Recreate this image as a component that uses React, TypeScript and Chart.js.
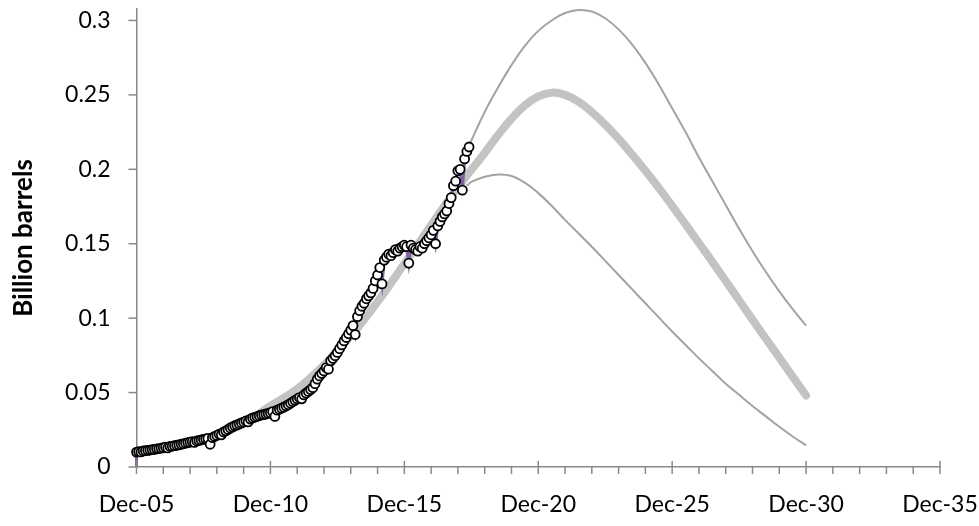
import React, { useEffect, useRef } from 'react';
import { Chart, registerables } from 'chart.js';

Chart.register(...registerables);

// x values are months since Dec-05
const xTickValues = [0, 60, 120, 180, 240, 300, 360];
const xTickLabels = ['Dec-05', 'Dec-10', 'Dec-15', 'Dec-20', 'Dec-25', 'Dec-30', 'Dec-35'];
const yTickValues = [0, 0.05, 0.1, 0.15, 0.2, 0.25, 0.3];
const yTickLabels = ['0', '0.05', '0.1', '0.15', '0.2', '0.25', '0.3'];

// monthly observed production (billion barrels), Dec-05 onward
const observed = [
  0.0100, 0.0103, 0.0101, 0.0108, 0.0110, 0.0112, 0.0114, 0.0117, 0.0119, 0.0122, 0.0124, 0.0127,
  0.0130, 0.0133, 0.0128, 0.0138, 0.0140, 0.0143, 0.0146, 0.0149, 0.0153, 0.0156, 0.0160, 0.0164,
  0.0167, 0.0170, 0.0165, 0.0175, 0.0178, 0.0182, 0.0186, 0.0189, 0.0192, 0.0153, 0.0197, 0.0205,
  0.0212, 0.0220, 0.0216, 0.0235, 0.0243, 0.0252, 0.0262, 0.0270, 0.0277, 0.0283, 0.0290, 0.0296,
  0.0302, 0.0309, 0.0303, 0.0322, 0.0330, 0.0334, 0.0339, 0.0345, 0.0350, 0.0352, 0.0356, 0.0360,
  0.0365, 0.0372, 0.0340, 0.0382, 0.0388, 0.0395, 0.0402, 0.0410, 0.0418, 0.0428, 0.0438, 0.0448,
  0.0457, 0.0466, 0.0458, 0.0484, 0.0496, 0.0508, 0.0520, 0.0533, 0.0560, 0.0590, 0.0612, 0.0628,
  0.0645, 0.0668, 0.0657, 0.0713, 0.0730, 0.0748, 0.0770, 0.0795, 0.0820, 0.0847, 0.0870, 0.0895,
  0.0920, 0.0950, 0.0890, 0.1010, 0.1050, 0.1080, 0.1100, 0.1130, 0.1150, 0.1170, 0.1200, 0.1250,
  0.1290, 0.1340, 0.1230, 0.1390, 0.1410, 0.1430, 0.1420, 0.1440, 0.1460, 0.1450, 0.1470, 0.1480,
  0.1490, 0.1480, 0.1370, 0.1490, 0.1470, 0.1460, 0.1450, 0.1480, 0.1470, 0.1500, 0.1520, 0.1540,
  0.1560, 0.1590, 0.1500, 0.1620, 0.1650, 0.1680, 0.1700, 0.1720, 0.1770, 0.1810, 0.1890, 0.1920,
  0.1990, 0.2000, 0.1860, 0.2070, 0.2120, 0.2150,
];

// fitted curve (thick grey)
const fitMonths = [
  0, 12, 24, 36, 48, 60, 72, 84, 96, 108, 120, 132, 144, 156, 162, 168, 174, 180, 186, 192, 198,
  204, 210, 216, 222, 228, 234, 240, 246, 252, 258, 264, 270, 276, 282, 288, 294, 300,
];
const fitValues = [
  0.0090, 0.0118, 0.0158, 0.0212, 0.0290, 0.0410, 0.0525, 0.0685, 0.0880, 0.1110, 0.1365, 0.1625,
  0.1880, 0.2110, 0.2230, 0.2340, 0.2430, 0.2490, 0.2515, 0.2500, 0.2455, 0.2385, 0.2300, 0.2205,
  0.2100, 0.1990, 0.1875, 0.1755, 0.1630, 0.1505, 0.1378, 0.1250, 0.1120, 0.0990, 0.0862, 0.0735,
  0.0607, 0.0480,
];

// high case (thin grey)
const highMonths = [
  149, 156, 162, 168, 174, 180, 186, 192, 198, 204, 210, 216, 222, 228, 234, 240, 246, 252, 258,
  264, 270, 276, 282, 288, 294, 300,
];
const highValues = [
  0.2160, 0.2385, 0.2550, 0.2700, 0.2830, 0.2930, 0.3000, 0.3050, 0.3070, 0.3060, 0.3015, 0.2940,
  0.2840, 0.2715, 0.2570, 0.2410, 0.2250, 0.2080, 0.1920, 0.1760, 0.1600, 0.1450, 0.1310, 0.1180,
  0.1060, 0.0950,
];

// low case (thin grey)
const lowMonths = [
  148, 150, 156, 162, 168, 174, 180, 186, 192, 198, 204, 210, 216, 222, 228, 234, 240, 246, 252,
  258, 264, 270, 276, 282, 288, 294, 300,
];
const lowValues = [
  0.1890, 0.1915, 0.1950, 0.1965, 0.1955, 0.1910, 0.1840, 0.1755, 0.1660, 0.1570, 0.1480, 0.1385,
  0.1290, 0.1195, 0.1100, 0.1005, 0.0910, 0.0820, 0.0730, 0.0645, 0.0560, 0.0485, 0.0410, 0.0340,
  0.0270, 0.0205, 0.0145,
];

const AXIS_COLOR = '#898989';
const FONT = 'Lato, "Open Sans", sans-serif';

const axisTicksPlugin = {
  id: 'axisTicks',
  afterDraw(chart: any) {
    const { ctx, scales } = chart;
    const x = scales.x;
    const y = scales.y;
    const y0 = y.getPixelForValue(0);
    const x0 = x.getPixelForValue(0);
    ctx.save();
    ctx.strokeStyle = AXIS_COLOR;
    ctx.lineWidth = 1.5;
    for (let m = 0; m <= 360; m += 12) {
      const px = x.getPixelForValue(m);
      const major = m % 60 === 0;
      ctx.beginPath();
      ctx.moveTo(px, major ? y0 - 6 : y0);
      ctx.lineTo(px, y0 + 7);
      ctx.stroke();
    }
    yTickValues.forEach((v) => {
      const py = y.getPixelForValue(v);
      ctx.beginPath();
      ctx.moveTo(x0 - 8, py);
      ctx.lineTo(x0, py);
      ctx.stroke();
    });
    ctx.restore();
  },
};

export default function App() {
  const ref = useRef<HTMLCanvasElement | null>(null);

  useEffect(() => {
    const canvas = ref.current;
    if (!canvas) return;
    const obsPoints = observed.map((v, i) => ({ x: i, y: v }));
    const chart = new Chart(canvas, {
      type: 'scatter',
      data: {
        datasets: [
          {
            label: 'Observed',
            data: obsPoints,
            showLine: false,
            pointRadius: 4.5,
            pointBorderWidth: 1.8,
            pointBackgroundColor: '#ffffff',
            pointBorderColor: '#000000',
            order: 1,
          },
          {
            label: 'Observed line',
            data: [{ x: 0, y: 0 }, ...obsPoints],
            showLine: true,
            borderColor: '#8064A2',
            borderWidth: 3,
            pointRadius: 0,
            order: 2,
          },
          {
            label: 'High',
            data: highMonths.map((m, i) => ({ x: m, y: highValues[i] })),
            showLine: true,
            borderColor: '#a3a3a3',
            borderWidth: 2,
            pointRadius: 0,
            tension: 0.4,
            order: 3,
          },
          {
            label: 'Low',
            data: lowMonths.map((m, i) => ({ x: m, y: lowValues[i] })),
            showLine: true,
            borderColor: '#a3a3a3',
            borderWidth: 2,
            pointRadius: 0,
            tension: 0.4,
            order: 4,
          },
          {
            label: 'Fit',
            data: fitMonths.map((m, i) => ({ x: m, y: fitValues[i] })),
            showLine: true,
            borderColor: '#c3c3c3',
            borderWidth: 8,
            borderCapStyle: 'round',
            pointRadius: 0,
            tension: 0.4,
            order: 5,
          },
        ],
      },
      options: {
        animation: false,
        responsive: false,
        clip: false as any,
        layout: { padding: { top: 9, right: 39, left: 0, bottom: 0 } },
        plugins: {
          legend: { display: false },
          tooltip: { enabled: false },
        },
        scales: {
          x: {
            type: 'linear',
            min: 0,
            max: 360,
            afterBuildTicks: (scale: any) => {
              scale.ticks = xTickValues.map((v) => ({ value: v }));
            },
            afterFit: (scale: any) => {
              scale.height = 526 - 467;
              scale.paddingLeft = 0;
              scale.paddingRight = 0;
            },
            ticks: {
              autoSkip: false,
              maxRotation: 0,
              padding: 16,
              color: '#000000',
              font: { family: FONT, size: 23 },
              callback: (v: any) => {
                const idx = xTickValues.indexOf(Number(v));
                return idx >= 0 ? xTickLabels[idx] : '';
              },
            },
            grid: {
              drawOnChartArea: false,
              drawTicks: true,
              tickLength: 8,
              color: 'rgba(0,0,0,0)',
            },
            border: { display: true, color: AXIS_COLOR, width: 1.5 },
          },
          y: {
            type: 'linear',
            min: 0,
            max: 0.3077,
            afterBuildTicks: (scale: any) => {
              scale.ticks = yTickValues.map((v) => ({ value: v }));
            },
            afterFit: (scale: any) => {
              scale.width = 136.5;
              scale.paddingTop = 0;
              scale.paddingBottom = 0;
            },
            ticks: {
              padding: 18,
              color: '#000000',
              font: { family: FONT, size: 23 },
              callback: (v: any) => {
                const idx = yTickValues.findIndex((t) => Math.abs(t - Number(v)) < 1e-9);
                return idx >= 0 ? yTickLabels[idx] : '';
              },
            },
            grid: {
              drawOnChartArea: false,
              drawTicks: true,
              tickLength: 8,
              color: 'rgba(0,0,0,0)',
            },
            border: { display: true, color: AXIS_COLOR, width: 1.5 },
            title: {
              display: true,
              text: 'Billion barrels',
              color: '#000000',
              font: { family: FONT, size: 26, weight: 'bold', lineHeight: 1.2 },
              padding: { top: 8, bottom: 0 },
            },
          },
        },
      },
      plugins: [axisTicksPlugin],
    });
    return () => chart.destroy();
  }, []);

  return (
    <div style={{ position: 'fixed', left: 0, top: 0, width: 979, height: 526, background: '#ffffff' }}>
      <canvas ref={ref} width={979} height={526} style={{ display: 'block', width: 979, height: 526 }} />
    </div>
  );
}
